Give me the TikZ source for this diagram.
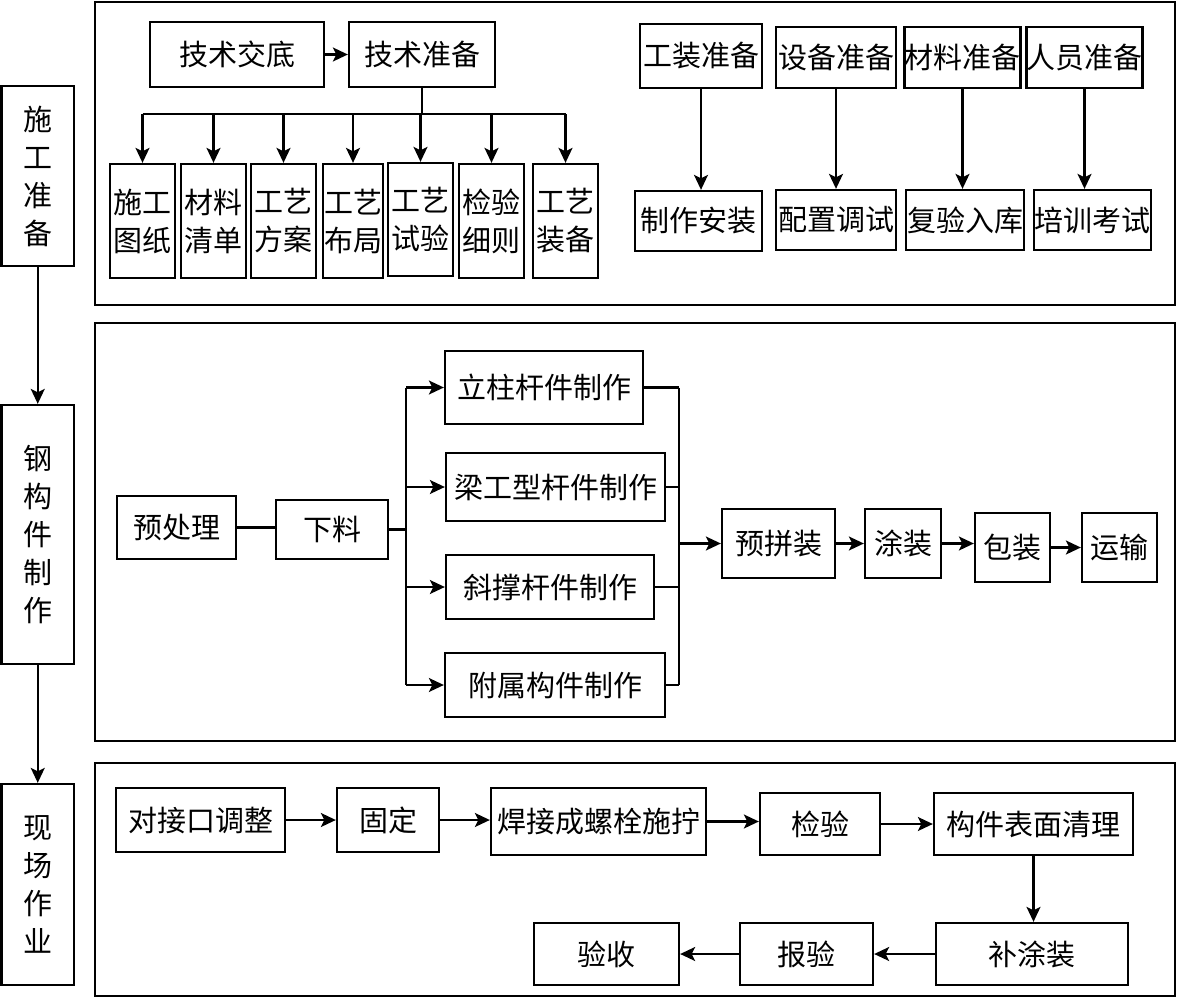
\documentclass[tikz,border=0pt]{standalone}
\usepackage{fontspec}
\newfontfamily\cjk{Noto Sans CJK SC}
\usetikzlibrary{arrows.meta}
\tikzset{
  box/.style={draw, line width=2.3pt, inner sep=0pt, align=center,
    font=\cjk\fontsize{29}{38}\selectfont},
  panel/.style={draw, line width=2.1pt, inner sep=0pt},
  conn/.style={line width=2.1pt},
  arr/.style={line width=2.1pt, -{Stealth[length=15pt,width=14pt,inset=3.5pt]}},
}
\newcommand\mkbox[6]{\node[box,minimum width={(#4)-(#2)},minimum height={(#5)-(#3)}] (#1) at ({((#2)+(#4))/2},{((#3)+(#5))/2}) {#6};}
\newcommand\mkpanel[5]{\node[panel,minimum width={(#4)-(#2)},minimum height={(#5)-(#3)}] (#1) at ({((#2)+(#4))/2},{((#3)+(#5))/2}) {};}
\begin{document}
\begin{tikzpicture}[x=1pt,y=-1pt]
\useasboundingbox (0,0) rectangle (1177,998);
\fill[white] (0,0) rectangle (1177,998);
% panels
\mkpanel{p1}{95}{2}{1175}{305}
\mkpanel{p2}{95}{323}{1175}{741}
\mkpanel{p3}{95}{763}{1175}{996}
% left column
\mkbox{L1}{1.5}{86}{74}{266}{施\\工\\准\\备}
\mkbox{L2}{1.5}{405}{74}{664}{钢\\构\\件\\制\\作}
\mkbox{L3}{1.5}{784}{74}{985}{现\\场\\作\\业}
\draw[arr] (L1.south) -- (L2.north);
\draw[arr] (L2.south) -- (L3.north);
% top panel, left part
\mkbox{jd}{150}{22}{324}{87}{技术交底}
\mkbox{jz}{349}{22}{495}{87}{技术准备}
\draw[arr] (jd.east) -- (jz.west);
\mkbox{s1}{110}{164}{175}{278}{施工\\图纸}
\mkbox{s2}{181}{164}{246}{278}{材料\\清单}
\mkbox{s3}{251}{164}{316}{278}{工艺\\方案}
\mkbox{s4}{323}{164}{383}{278}{工艺\\布局}
\mkbox{s5}{388}{163}{453}{276}{工艺\\试验}
\mkbox{s6}{459}{164}{524}{278}{检验\\细则}
\mkbox{s7}{533}{164}{598}{278}{工艺\\装备}
\coordinate (bus) at (0,114);
\draw[conn] (jz.south) -- (jz.south |- bus);
\draw[conn] (s1.north |- bus) -- (s7.north |- bus);
\foreach \s in {s1,s2,s3,s4,s5,s6,s7}{
  \draw[arr] (\s.north |- bus) -- (\s.north);
}
% top panel, right part
\mkbox{g1}{640}{24}{762}{88}{工装准备}
\mkbox{g2}{776}{27}{896}{88}{设备准备}
\mkbox{g3}{906}{27}{1019}{88}{材料准备}
\mkbox{g4}{1027}{27}{1142}{88}{人员准备}
\mkbox{h1}{635}{191}{762}{251}{制作安装}
\mkbox{h2}{776}{190}{896}{250}{配置调试}
\mkbox{h3}{906}{190}{1024}{250}{复验入库}
\mkbox{h4}{1034}{190}{1151}{250}{培训考试}
\foreach \a/\b in {g1/h1,g2/h2,g3/h3,g4/h4}{
  \draw[arr] (\a.south) -- (\a.south |- \b.north);
}
% middle panel
\mkbox{yc}{117}{496}{236}{559}{预处理}
\mkbox{xl}{276}{500}{388}{559}{下料}
\draw[conn] (yc.east) -- (yc.east -| xl.west);
\mkbox{m1}{445}{351}{643}{424}{立柱杆件制作}
\mkbox{m2}{446}{453}{665}{521}{梁工型杆件制作}
\mkbox{m3}{446}{555}{654}{619}{斜撑杆件制作}
\mkbox{m4}{445}{653}{665}{717}{附属构件制作}
\coordinate (sp) at (406,530);
\coordinate (mg) at (679,543);
\draw[conn] (xl.east) -- (xl.east -| sp);
\draw[conn] (sp |- m1.west) -- (sp |- m4.west);
\draw[conn] (mg |- m1.east) -- (mg |- m4.east);
\foreach \m in {m1,m2,m3,m4}{
  \draw[arr] (sp |- \m.west) -- (\m.west);
  \draw[conn] (\m.east) -- (mg |- \m.east);
}
\mkbox{pj}{722}{509}{835}{578}{预拼装}
\mkbox{tz}{865}{509}{941}{578}{涂装}
\mkbox{bz}{975}{513}{1050}{582}{包装}
\mkbox{ys}{1082}{513}{1157}{582}{运输}
\draw[arr] (mg |- pj.west) -- (pj.west);
\draw[arr] (pj.east) -- (pj.east -| tz.west);
\draw[arr] (tz.east) -- (tz.east -| bz.west);
\draw[arr] (bz.east) -- (bz.east -| ys.west);
% bottom panel
\mkbox{d1}{116}{788}{285}{852}{对接口调整}
\mkbox{d2}{337}{788}{439}{852}{固定}
\mkbox{d3}{491}{788}{706}{855}{焊接成螺栓施拧}
\mkbox{d4}{760}{793}{880}{855}{检验}
\mkbox{d5}{934}{793}{1133}{855}{构件表面清理}
\mkbox{e1}{936}{923}{1128}{985}{补涂装}
\mkbox{e2}{740}{923}{873}{985}{报验}
\mkbox{e3}{534}{923}{679}{985}{验收}
\draw[arr] (d1.east) -- (d1.east -| d2.west);
\draw[arr] (d2.east) -- (d2.east -| d3.west);
\draw[arr] (d3.east) -- (d3.east -| d4.west);
\draw[arr] (d4.east) -- (d4.east -| d5.west);
\draw[arr] (d5.south) -- (d5.south |- e1.north);
\draw[arr] (e1.west) -- (e1.west -| e2.east);
\draw[arr] (e2.west) -- (e2.west -| e3.east);
\end{tikzpicture}
\end{document}
